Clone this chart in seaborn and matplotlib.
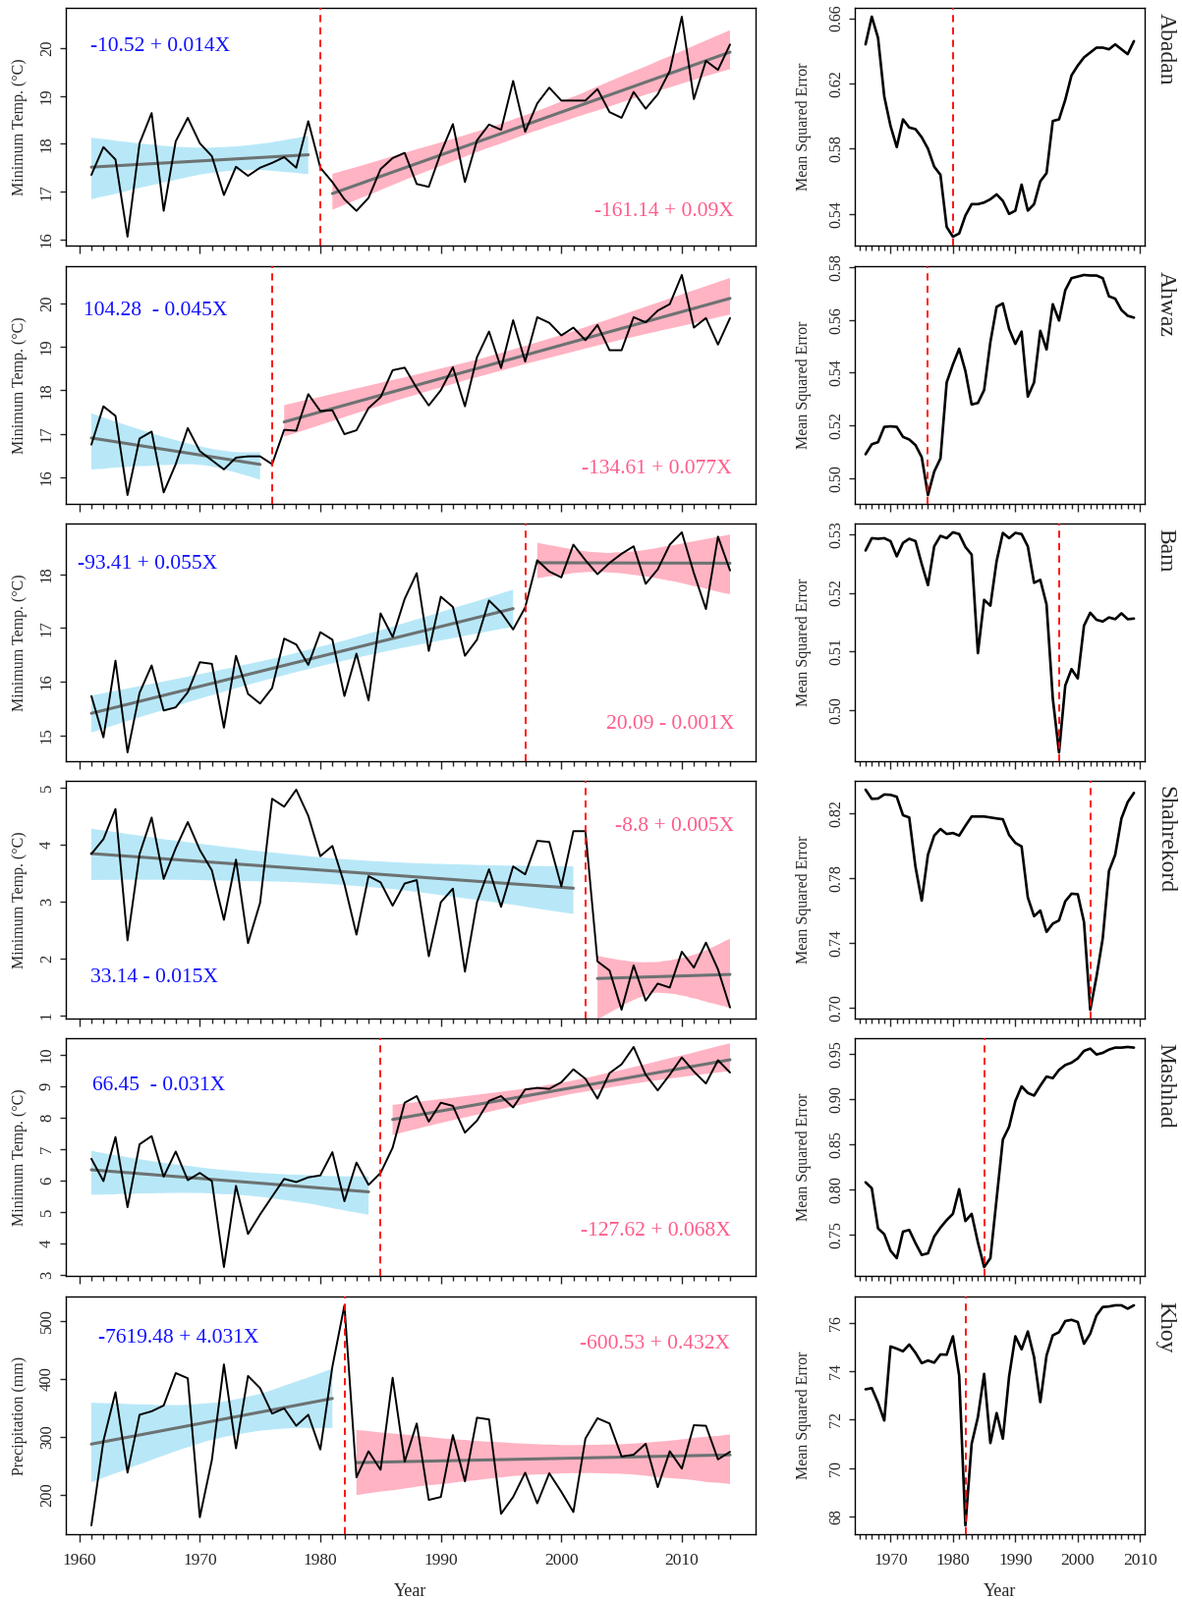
import numpy as np
import pandas as pd
import matplotlib
matplotlib.use("Agg")
import matplotlib.pyplot as plt
import seaborn as sns
from matplotlib.ticker import FixedLocator

# ---------------- data ----------------
years = list(range(1961, 2015))
mse_years = list(range(1966, 2010))
stations = ["Abadan", "Ahwaz", "Bam", "Shahrekord", "Mashhad", "Khoy"]
break_years = [1980, 1976, 1997, 2002, 1985, 1982]
ylabels_left = ["Minimum Temp. (°C)"] * 5 + ["Precipitation (mm)"]

abadan_tmin = [17.35, 17.93, 17.67, 16.06, 18.01, 18.64, 16.60, 18.05, 18.54, 18.01,
               17.74, 16.93, 17.52, 17.33, 17.50, 17.60, 17.72, 17.50, 18.47, 17.50,
               17.20, 16.84, 16.60, 16.87, 17.47, 17.70, 17.81, 17.16, 17.10, 17.81,
               18.41, 17.20, 18.07, 18.40, 18.29, 19.31, 18.25, 18.84, 19.17, 18.90,
               18.90, 18.90, 19.14, 18.66, 18.54, 19.08, 18.73, 19.03, 19.52, 20.65,
               18.93, 19.73, 19.54, 20.07]
ahwaz_tmin = [16.75, 17.63, 17.41, 15.59, 16.89, 17.05, 15.65, 16.30, 17.13, 16.60,
              16.39, 16.18, 16.45, 16.48, 16.48, 16.30, 17.09, 17.07, 17.91, 17.52,
              17.54, 16.99, 17.08, 17.59, 17.84, 18.46, 18.52, 18.05, 17.65, 18.00,
              18.53, 17.63, 18.76, 19.35, 18.51, 19.61, 18.66, 19.68, 19.55, 19.26,
              19.44, 19.15, 19.50, 18.92, 18.92, 19.68, 19.56, 19.83, 19.98, 20.65,
              19.44, 19.66, 19.05, 19.66]
bam_tmin = [15.73, 14.96, 16.39, 14.68, 15.79, 16.30, 15.46, 15.52, 15.80, 16.36,
            16.33, 15.14, 16.48, 15.77, 15.59, 15.88, 16.80, 16.69, 16.31, 16.92,
            16.78, 15.73, 16.52, 15.65, 17.27, 16.83, 17.54, 18.02, 16.57, 17.58,
            17.39, 16.48, 16.78, 17.51, 17.29, 16.97, 17.38, 18.26, 18.05, 17.94,
            18.55, 18.26, 18.00, 18.21, 18.38, 18.52, 17.82, 18.09, 18.55, 18.78,
            18.02, 17.35, 18.70, 18.07]
shahrekord_tmin = [3.84, 4.10, 4.63, 2.32, 3.84, 4.48, 3.40, 3.94, 4.40, 3.91,
                   3.55, 2.68, 3.74, 2.27, 2.98, 4.81, 4.67, 4.97, 4.51, 3.80,
                   3.98, 3.31, 2.42, 3.45, 3.34, 2.93, 3.32, 3.38, 2.04, 2.99,
                   3.23, 1.77, 2.99, 3.57, 2.91, 3.62, 3.48, 4.07, 4.05, 3.27,
                   4.24, 4.24, 1.95, 1.79, 1.10, 1.88, 1.26, 1.56, 1.49, 2.12,
                   1.84, 2.28, 1.81, 1.14]
mashhad_tmin = [6.69, 5.98, 7.38, 5.15, 7.15, 7.41, 6.12, 6.92, 6.01, 6.24,
                5.98, 3.25, 5.83, 4.30, 4.92, 5.49, 6.05, 5.95, 6.10, 6.16,
                6.90, 5.34, 6.57, 5.86, 6.24, 7.04, 8.47, 8.68, 7.87, 8.47,
                8.37, 7.52, 7.90, 8.53, 8.68, 8.32, 8.89, 8.94, 8.91, 9.12,
                9.53, 9.23, 8.60, 9.41, 9.69, 10.24, 9.36, 8.86, 9.36, 9.91,
                9.46, 9.08, 9.82, 9.43]
khoy_precip = [147, 293, 377, 238, 338, 344, 354, 410, 401, 161,
               260, 425, 280, 405, 384, 340, 349, 319, 338, 278,
               421, 527, 230, 275, 243, 402, 257, 323, 191, 196,
               303, 223, 333, 330, 167, 196, 238, 185, 237, 205,
               170, 297, 332, 323, 266, 269, 288, 213, 275, 245,
               320, 319, 261, 274]

abadan_mse = [0.644, 0.661, 0.648, 0.612, 0.594, 0.581, 0.598, 0.593, 0.592, 0.587,
              0.580, 0.569, 0.564, 0.532, 0.526, 0.528, 0.539, 0.546, 0.546, 0.547,
              0.549, 0.552, 0.548, 0.540, 0.542, 0.558, 0.542, 0.546, 0.560, 0.565,
              0.597, 0.598, 0.610, 0.625, 0.631, 0.636, 0.639, 0.642, 0.642, 0.641,
              0.644, 0.641, 0.638, 0.646]
ahwaz_mse = [0.5090, 0.5128, 0.5136, 0.5194, 0.5196, 0.5194, 0.5156, 0.5146, 0.5125, 0.5079,
             0.4935, 0.5024, 0.5074, 0.5363, 0.5431, 0.5491, 0.5406, 0.5279, 0.5285, 0.5334,
             0.5516, 0.5650, 0.5663, 0.5566, 0.5509, 0.5556, 0.5309, 0.5363, 0.5559, 0.5488,
             0.5660, 0.5598, 0.5713, 0.5759, 0.5765, 0.5771, 0.5769, 0.5769, 0.5759, 0.5690,
             0.5681, 0.5638, 0.5616, 0.5609]
bam_mse = [0.5272, 0.5293, 0.5292, 0.5293, 0.5288, 0.5262, 0.5285, 0.5292, 0.5288, 0.5249,
           0.5213, 0.5279, 0.5297, 0.5293, 0.5303, 0.5300, 0.5278, 0.5265, 0.5097, 0.5188,
           0.5178, 0.5254, 0.5302, 0.5293, 0.5302, 0.5300, 0.5279, 0.5217, 0.5222, 0.5180,
           0.5020, 0.4928, 0.5042, 0.5070, 0.5054, 0.5144, 0.5166, 0.5154, 0.5151, 0.5158,
           0.5155, 0.5165, 0.5155, 0.5156]
shahrekord_mse = [0.8346, 0.8289, 0.8291, 0.8316, 0.8314, 0.8302, 0.8188, 0.8174, 0.7869, 0.7660,
                  0.7944, 0.8062, 0.8103, 0.8072, 0.8078, 0.8062, 0.8123, 0.8180, 0.8180, 0.8180,
                  0.8174, 0.8168, 0.8163, 0.8066, 0.8017, 0.7995, 0.7680, 0.7564, 0.7599, 0.7467,
                  0.7518, 0.7538, 0.7656, 0.7703, 0.7700, 0.7528, 0.6986, 0.7189, 0.7426, 0.7843,
                  0.7944, 0.8168, 0.8269, 0.8326]
mashhad_mse = [0.8080, 0.8014, 0.7572, 0.7507, 0.7326, 0.7243, 0.7536, 0.7554, 0.7409, 0.7279,
               0.7297, 0.7482, 0.7580, 0.7663, 0.7732, 0.8004, 0.7652, 0.7732, 0.7417, 0.7145,
               0.7243, 0.7899, 0.8551, 0.8692, 0.8975, 0.9138, 0.9065, 0.9036, 0.9145, 0.9246,
               0.9228, 0.9319, 0.9373, 0.9399, 0.9446, 0.9529, 0.9554, 0.9489, 0.9507, 0.9543,
               0.9565, 0.9565, 0.9572, 0.9565]
khoy_mse = [73.25, 73.30, 72.70, 71.96, 75.02, 74.93, 74.82, 75.10, 74.76, 74.33,
            74.44, 74.35, 74.69, 74.68, 75.44, 73.82, 67.63, 71.00, 72.10, 73.89,
            71.03, 72.27, 71.21, 73.78, 75.44, 74.90, 75.64, 74.58, 72.72, 74.65,
            75.48, 75.61, 76.07, 76.12, 76.03, 75.13, 75.55, 76.30, 76.65, 76.67,
            76.72, 76.72, 76.58, 76.72]

eq_before = ["-10.52 + 0.014X", "104.28  - 0.045X", "-93.41 + 0.055X",
             "33.14 - 0.015X", "66.45  - 0.031X", "-7619.48 + 4.031X"]
eq_after = ["-161.14 + 0.09X", "-134.61 + 0.077X", "20.09 - 0.001X",
            "-8.8 + 0.005X", "-127.62 + 0.068X", "-600.53 + 0.432X"]

left_yticks = [[16, 17, 18, 19, 20], [16, 17, 18, 19, 20], [15, 16, 17, 18],
               [1, 2, 3, 4, 5], [3, 4, 5, 6, 7, 8, 9, 10], [200, 300, 400, 500]]
right_yticks = [[0.54, 0.58, 0.62, 0.66], [0.50, 0.52, 0.54, 0.56, 0.58],
                [0.50, 0.51, 0.52, 0.53], [0.70, 0.74, 0.78, 0.82],
                [0.75, 0.80, 0.85, 0.90, 0.95], [68, 70, 72, 74, 76]]
right_fmt = ["%.2f", "%.2f", "%.2f", "%.2f", "%.2f", "%d"]
left_xticks = [1960, 1970, 1980, 1990, 2000, 2010]
right_xticks = [1970, 1980, 1990, 2000, 2010]

left_series = [abadan_tmin, ahwaz_tmin, bam_tmin, shahrekord_tmin, mashhad_tmin, khoy_precip]
right_series = [abadan_mse, ahwaz_mse, bam_mse, shahrekord_mse, mashhad_mse, khoy_mse]

# ---------------- style ----------------
sns.set_theme(style="ticks")
plt.rcParams["font.family"] = ["Liberation Serif", "DejaVu Serif"]
plt.rcParams["axes.linewidth"] = 1.0
plt.rcParams["axes.edgecolor"] = "black"

BLUE_BAND = "#b8e8f8"
PINK_BAND = "#ffb3c3"
TREND = "#6c7272"
BLUE_TXT = "#1010ff"
PINK_TXT = "#ff5c8a"
CI_BEFORE = 95
CI_AFTER = 99

# text placements (axes fraction): before-eq, after-eq
eq_pos_before = [(0.137, 0.835), (0.13, 0.81), (0.118, 0.83), (0.128, 0.17), (0.134, 0.80), (0.163, 0.826)]
eq_pos_after = [(0.867, 0.144), (0.856, 0.145), (0.876, 0.157), (0.883, 0.806), (0.855, 0.186), (0.854, 0.80)]

W, H = 1203, 1629
fig = plt.figure(figsize=(W / 100, H / 100), dpi=100)
tops = [8, 271, 533, 795, 1057, 1320]
ph = 242


def r_lim(v):
    lo, hi = min(v), max(v)
    pad = 0.04 * (hi - lo)
    return lo - pad, hi + pad


for i in range(6):
    top = tops[i]
    bottom_frac = 1 - (top + ph) / H
    axL = fig.add_axes([67 / W, bottom_frac, 702 / W, ph / H])
    axR = fig.add_axes([870 / W, bottom_frac, 295 / W, ph / H])

    # ---- left panel ----
    brk = break_years[i]
    df = pd.DataFrame({"year": years, "val": left_series[i]})
    segs = [(df[df.year < brk], BLUE_BAND, CI_BEFORE), (df[df.year > brk], PINK_BAND, CI_AFTER)]
    for seg, band, ci in segs:
        n_before = len(axL.collections)
        sns.regplot(data=seg, x="year", y="val", scatter=False, ci=ci, n_boot=4000, seed=3,
                    color=TREND, line_kws={"lw": 2.2, "zorder": 3}, ax=axL)
        for coll in axL.collections[n_before:]:
            coll.set_facecolor(band)
            coll.set_edgecolor("none")
            coll.set_alpha(1.0)
            coll.set_zorder(1)
    sns.lineplot(x=years, y=left_series[i], color="black", lw=1.4, ax=axL, zorder=4)
    axL.axvline(brk, color="red", ls=(0, (4, 3)), lw=1.3, zorder=5)
    axL.set_xlim(1961 - 0.04 * 53, 2014 + 0.04 * 53)
    axL.set_ylim(*r_lim(left_series[i]))
    axL.xaxis.set_major_locator(FixedLocator(left_xticks))
    axL.xaxis.set_minor_locator(FixedLocator(list(range(1960, 2015))))
    axL.set_yticks(left_yticks[i])
    axL.set_yticklabels([str(t) for t in left_yticks[i]], rotation=90, va="center", fontsize=12)
    axL.tick_params(axis="x", which="major", length=6, width=1, direction="out", labelsize=12.5, pad=8)
    axL.tick_params(axis="x", which="minor", length=3.5, width=1, direction="out")
    axL.tick_params(axis="y", length=4, width=1, direction="out", pad=4)
    axL.set_ylabel(ylabels_left[i], fontsize=11.5)
    axL.yaxis.set_label_coords(-0.055, 0.5)
    if i < 5:
        axL.tick_params(axis="x", labelbottom=False)
        axL.set_xlabel("")
    else:
        axL.set_xlabel("Year", fontsize=13)
        axL.xaxis.set_label_coords(0.5, -0.205)
    for s in axL.spines.values():
        s.set_visible(True)
        s.set_color("black")
    bx, by = eq_pos_before[i]
    axL.text(bx, by, eq_before[i], transform=axL.transAxes, color=BLUE_TXT,
             fontsize=15.5, ha="center", va="center", zorder=6)
    ax_, ay_ = eq_pos_after[i]
    axL.text(ax_, ay_, eq_after[i], transform=axL.transAxes, color=PINK_TXT,
             fontsize=15.5, ha="center", va="center", zorder=6)

    # ---- right panel ----
    sns.lineplot(x=mse_years, y=right_series[i], color="black", lw=1.9, ax=axR, zorder=3)
    axR.axvline(brk, color="red", ls=(0, (4, 3)), lw=1.3, zorder=4)
    axR.set_xlim(1966 - 0.04 * 43, 2009 + 0.04 * 43)
    axR.set_ylim(*r_lim(right_series[i]))
    axR.xaxis.set_major_locator(FixedLocator(right_xticks))
    axR.xaxis.set_minor_locator(FixedLocator(list(range(1965, 2011))))
    axR.set_yticks(right_yticks[i])
    axR.set_yticklabels([right_fmt[i] % t for t in right_yticks[i]], rotation=90, va="center", fontsize=11.5)
    axR.tick_params(axis="x", which="major", length=6, width=1, direction="out", labelsize=12.5, pad=8)
    axR.tick_params(axis="x", which="minor", length=3.5, width=1, direction="out")
    axR.tick_params(axis="y", length=4, width=1, direction="out", pad=4)
    axR.set_ylabel("Mean Squared Error", fontsize=11.5)
    axR.yaxis.set_label_coords(-0.15, 0.5)
    if i < 5:
        axR.tick_params(axis="x", labelbottom=False)
        axR.set_xlabel("")
    else:
        axR.set_xlabel("Year", fontsize=13)
        axR.xaxis.set_label_coords(0.5, -0.205)
    for s in axR.spines.values():
        s.set_visible(True)
        s.set_color("black")
    axR.text(1.035, 0.98, stations[i], transform=axR.transAxes, rotation=-90,
             ha="left", va="top", fontsize=17)

fig.savefig("out.png", dpi=100)
